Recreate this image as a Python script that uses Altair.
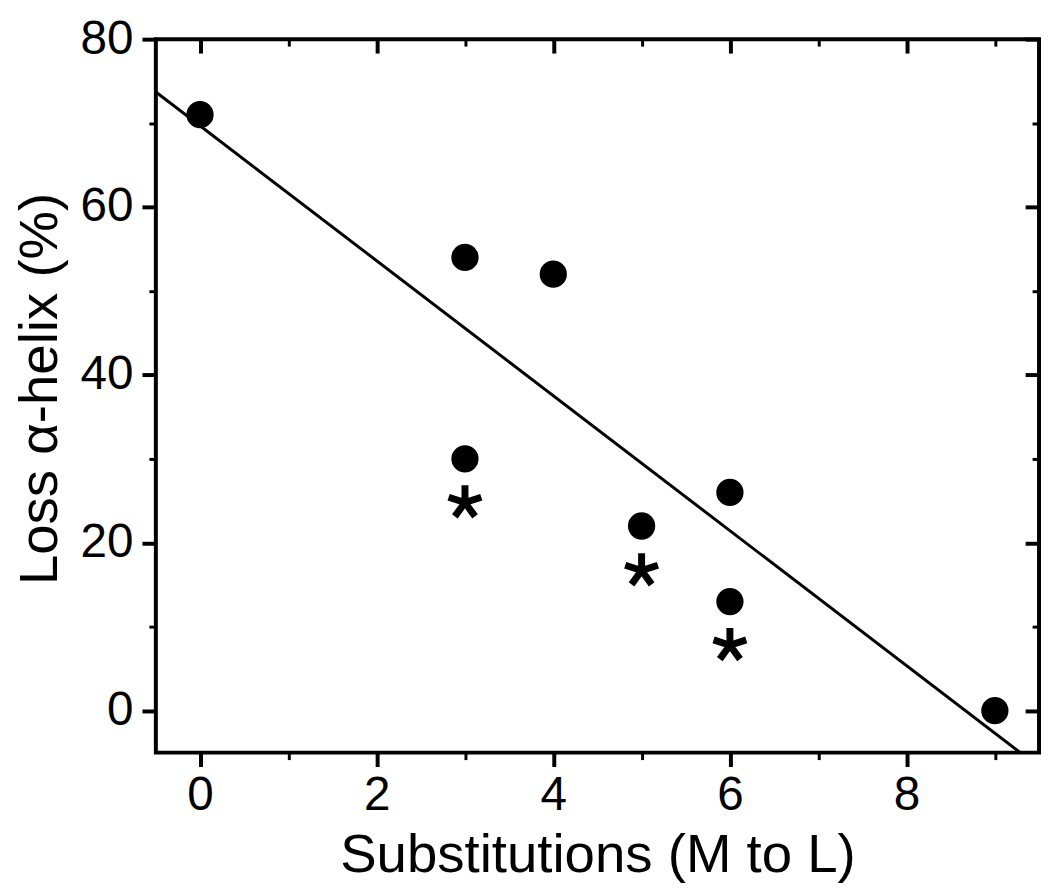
import altair as alt
import pandas as pd

# data
subs = [0, 3, 4, 3, 5, 6, 6, 9]
loss = [71, 54, 52, 30, 22, 26, 13, 0]
star_x = [3, 5, 6]
star_y = [24.8, 16.7, 7.8]
x_major = [0, 2, 4, 6, 8]
x_minor = [1, 3, 5, 7, 9]
y_major = [0, 20, 40, 60, 80]
y_minor = [10, 30, 50, 70]

pts = pd.DataFrame({"x": subs, "y": loss})
stars = pd.DataFrame({"x": star_x, "y": star_y})

W, H = 890, 719
FONT = "Liberation Sans"
xs = alt.Scale(domain=[-0.5, 9.5], nice=False, zero=False)
ys = alt.Scale(domain=[-5, 80], nice=False, zero=False)

common = dict(domain=False, grid=False, tickColor="black")

# layer 1: circles, bottom/left major ticks with labels and titles
circles = alt.Chart(pts).mark_circle(size=755, color="black", opacity=1).encode(
    x=alt.X("x:Q", scale=xs, axis=alt.Axis(
        orient="bottom", values=x_major, tickSize=14, tickWidth=4,
        labelFont=FONT, labelFontSize=48, labelColor="black",
        labelBaseline="alphabetic", labelPadding=43, labelFlush=False,
        title="Substitutions (M to L)", titleFont=FONT, titleFontSize=55,
        titleFontWeight="normal", titleColor="black",
        titleBaseline="alphabetic", titleY=120, **common)),
    y=alt.Y("y:Q", scale=ys, axis=alt.Axis(
        orient="left", values=y_major, tickSize=14, tickWidth=4,
        labelFont=FONT, labelFontSize=48, labelColor="black",
        labelBaseline="middle", labelPadding=9, labelFlush=False,
        title="Loss α-helix (%)", titleFont=FONT, titleFontSize=55,
        titleFontWeight="normal", titleColor="black",
        titleBaseline="alphabetic", titleX=-100, titleY=352, **common)),
)

# layer 2: asterisks, bottom/left minor ticks
ast_path = ("M0,0L0,-1M0,0L0.951,-0.309M0,0L-0.951,-0.309"
            "M0,0L0.588,0.809M0,0L-0.588,0.809")
asterisks = alt.Chart(stars).mark_point(
    shape=ast_path, filled=False, stroke="black", strokeWidth=7,
    size=1200, opacity=1
).encode(
    x=alt.X("x:Q", scale=xs, axis=alt.Axis(
        orient="bottom", values=x_minor, tickSize=7, tickWidth=3,
        labels=False, title=None, **common)),
    y=alt.Y("y:Q", scale=ys, axis=alt.Axis(
        orient="left", values=y_minor, tickSize=7, tickWidth=3,
        labels=False, title=None, **common)),
)

# layer 3: linear fit, top/right major ticks (inward)
fit = alt.Chart(pts).transform_regression(
    "x", "y", extent=[-0.5, 9.5]
).mark_line(color="black", strokeWidth=3, clip=True).encode(
    x=alt.X("x:Q", scale=xs, axis=alt.Axis(
        orient="bottom", offset=-H, values=x_major, tickSize=14, tickWidth=4,
        labels=False, title=None, **common)),
    y=alt.Y("y:Q", scale=ys, axis=alt.Axis(
        orient="left", offset=-W, values=y_major, tickSize=14, tickWidth=4,
        labels=False, title=None, **common)),
)

# layer 4: invisible points carrying top/right minor ticks
ghost = alt.Chart(pts).mark_point(opacity=0).encode(
    x=alt.X("x:Q", scale=xs, axis=alt.Axis(
        orient="bottom", offset=-H, values=x_minor, tickSize=7, tickWidth=3,
        labels=False, title=None, **common)),
    y=alt.Y("y:Q", scale=ys, axis=alt.Axis(
        orient="left", offset=-W, values=y_minor, tickSize=7, tickWidth=3,
        labels=False, title=None, **common)),
)

chart = alt.layer(fit, circles, asterisks, ghost).resolve_axis(
    x="independent", y="independent"
).properties(
    width=W, height=H,
    autosize=alt.AutoSizeParams(type="none"),
    padding={"left": 149, "top": 28, "right": 3, "bottom": 132},
    background="white",
).configure_view(stroke="black", strokeWidth=4)

chart.save("out.html", embed_options={"renderer": "svg", "actions": False})
